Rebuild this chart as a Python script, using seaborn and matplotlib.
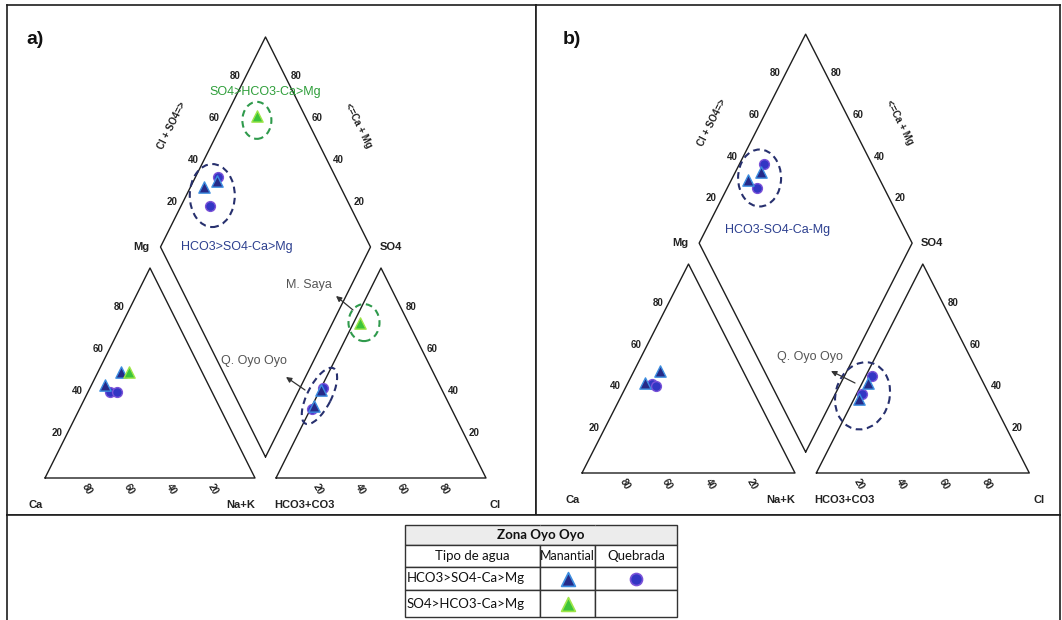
import numpy as np
import pandas as pd
import matplotlib
matplotlib.use("Agg")
import matplotlib.pyplot as plt
import seaborn as sns
from matplotlib.patches import Ellipse, Rectangle
from matplotlib import transforms

sns.set_theme(style="white")
plt.rcParams['font.family'] = ['Liberation Sans', 'DejaVu Sans']

# ---------------------------------------------------------------- data (%)
# a) Zona Oyo Oyo
a_tipo = ["Manantial", "Manantial", "Quebrada", "Quebrada", "Manantial"]
a_agua = ["HCO3>SO4-Ca>Mg", "HCO3>SO4-Ca>Mg", "HCO3>SO4-Ca>Mg",
          "HCO3>SO4-Ca>Mg", "SO4>HCO3-Ca>Mg"]
a_ca = [49.0, 38.5, 48.5, 45.0, 34.7]
a_mg = [44.5, 50.5, 41.0, 41.0, 50.5]
a_nak = [6.5, 11.0, 10.5, 14.0, 14.8]
a_hco3 = [64.8, 57.5, 56.0, 66.5, 23.0]
a_so4 = [34.5, 42.0, 43.0, 33.0, 74.0]
a_cl = [0.7, 0.5, 1.0, 0.5, 3.0]

# b) Zona Oyo Oyo
b_tipo = ["Manantial", "Manantial", "Quebrada", "Quebrada"]
b_agua = ["HCO3>SO4-Ca>Mg"] * 4
b_ca = [39.0, 49.0, 46.0, 44.5]
b_mg = [49.0, 43.0, 42.5, 41.5]
b_nak = [12.0, 8.0, 11.5, 14.0]
b_hco3 = [54.0, 62.0, 50.5, 59.5]
b_so4 = [43.0, 35.5, 46.5, 38.0]
b_cl = [3.0, 2.5, 3.0, 2.5]

tick_values = [20, 40, 60, 80]

# legend table
tabla_titulo = "Zona Oyo Oyo"
tabla_columnas = ["Tipo de agua", "Manantial", "Quebrada"]
tabla_filas = ["HCO3>SO4-Ca>Mg", "SO4>HCO3-Ca>Mg"]

# ---------------------------------------------------------------- styles
STYLE = {
    ("HCO3>SO4-Ca>Mg", "Quebrada"): dict(marker="o", color="#3336c4", edge="#7a52d8", s=50),
    ("HCO3>SO4-Ca>Mg", "Manantial"): dict(marker="^", color="#262a88", edge="#3d8ee0", s=66),
    ("SO4>HCO3-Ca>Mg", "Manantial"): dict(marker="^", color="#3cc43a", edge="#9fe64a", s=66),
}
LINE = "#1e1e1e"
BLUE_TXT = "#2c3f8f"
GREEN_TXT = "#2e9e3a"
GREY_TXT = "#555555"
TABLE_FONT = ["Lato", "DejaVu Sans"]

H = np.sqrt(3) / 2
GAP = 0.1
W_PX, H_PX = 1062, 620

fig = plt.figure(figsize=(W_PX / 100, H_PX / 100), dpi=100)
fig.patch.set_facecolor("white")


def cation_xy(ca, mg, nak):
    ca, mg, nak = map(np.asarray, (ca, mg, nak))
    tot = ca + mg + nak
    return (nak + mg / 2) / tot, mg / tot * H


def anion_xy(hco3, so4, cl):
    hco3, so4, cl = map(np.asarray, (hco3, so4, cl))
    tot = hco3 + so4 + cl
    return 1 + GAP + (cl + so4 / 2) / tot, so4 / tot * H


def diamond_xy(ca, mg, nak, hco3, so4, cl):
    ca, mg, nak, hco3, so4, cl = map(np.asarray, (ca, mg, nak, hco3, so4, cl))
    u = (ca + mg) / (ca + mg + nak)
    v = (so4 + cl) / (hco3 + so4 + cl)
    bx, by = 1 + GAP / 2, GAP * H
    return bx + 0.5 * (v - u), by + H * (u + v)


def make_panel(box, x0, sx, y0, sy):
    """Axes over a panel box given in pixels; data units: triangle side = 1."""
    l, t, r, b = box
    ax = fig.add_axes([l / W_PX, 1 - b / H_PX, (r - l) / W_PX, (b - t) / H_PX])
    ax.set_xlim((l - x0) / sx, (r - x0) / sx)
    ax.set_ylim((y0 - b) / sy, (y0 - t) / sy)
    ax.set_xticks([]); ax.set_yticks([])
    for sp in ax.spines.values():
        sp.set_color(LINE); sp.set_linewidth(1.2)
    ax.px = lambda px, py: ((px - x0) / sx, (y0 - py) / sy)
    return ax


def edge_angle(ax, p, q):
    a = ax.transData.transform(p); b = ax.transData.transform(q)
    return np.degrees(np.arctan2(b[1] - a[1], b[0] - a[0]))


def ellipse(ax, cx, cy, dx, dy, w, h, ang, color):
    tr = fig.dpi_scale_trans + transforms.ScaledTranslation(cx, cy, ax.transData)
    ax.add_patch(Ellipse((dx / 100, dy / 100), w / 100, h / 100, angle=ang,
                         transform=tr, fill=False, ec=color, lw=1.5,
                         ls=(0, (3.2, 2.2)), zorder=4))


def draw_frame(ax):
    kw = dict(color=LINE, lw=1.0, zorder=2)
    ax.plot([0, 1, 0.5, 0], [0, 0, H, 0], **kw)
    ax.plot(np.array([0, 1, 0.5, 0]) + 1 + GAP, [0, 0, H, 0], **kw)
    bx, by = 1 + GAP / 2, GAP * H
    ax.plot([bx, bx - 0.5, bx, bx + 0.5, bx], [by, by + H, by + 2 * H, by + H, by], **kw)

    tk = dict(fontsize=7, fontweight="bold", color="#222222",
              textcoords="offset pixels", va="center")
    ang_up = edge_angle(ax, (0, 0), (0.5, H))
    for t in tick_values:
        f = t / 100
        # Mg along the left edge of the cation triangle
        ax.annotate(str(t), (0.5 * f, H * f), xytext=(-4, 3), ha="right", **tk)
        # Ca along the cation base
        ax.annotate(str(t), (1 - f, 0), xytext=(0, -11), ha="center", rotation=-60, **tk)
        # Cl along the anion base
        ax.annotate(str(t), (1 + GAP + f, 0), xytext=(0, -11), ha="center", rotation=-60, **tk)
        # SO4 along the right edge of the anion triangle
        ax.annotate(str(t), (2 + GAP - 0.5 * f, H * f), xytext=(4, 3), ha="left", **tk)
        # diamond: Cl+SO4 (upper left) and Ca+Mg (upper right)
        ax.annotate(str(t), (bx - 0.5 + 0.5 * f, by + H + H * f), xytext=(-4, 3), ha="right", **tk)
        ax.annotate(str(t), (bx + 0.5 - 0.5 * f, by + H + H * f), xytext=(4, 3), ha="left", **tk)

    ax_kw = dict(fontsize=7, fontweight="bold", color="#222222",
                 textcoords="offset pixels", ha="center", va="center")
    ax.annotate("Cl + SO4=>", (bx - 0.5 + 0.5 * 0.55, by + H + H * 0.55),
                xytext=(-46, 6), rotation=ang_up, **ax_kw)
    ax.annotate("<=Ca + Mg", (bx + 0.5 - 0.5 * 0.55, by + H + H * 0.55),
                xytext=(46, 6), rotation=-ang_up, **ax_kw)

    vk = dict(fontsize=8, fontweight="bold", color="#222222",
              textcoords="offset pixels", va="center")
    ax.annotate("Mg", (bx - 0.5, by + H), xytext=(-11, 0), ha="right", **vk)
    ax.annotate("SO4", (bx + 0.5, by + H), xytext=(9, 0), ha="left", **vk)
    ax.annotate("Ca", (0, 0), xytext=(-2, -27), ha="right", **vk)
    ax.annotate("Na+K", (1, 0), xytext=(0, -27), ha="right", **vk)
    ax.annotate("HCO3+CO3", (1 + GAP, 0), xytext=(-2, -27), ha="left", **vk)
    ax.annotate("Cl", (2 + GAP, 0), xytext=(4, -27), ha="left", **vk)


def draw_points(ax, tipo, agua, ca, mg, nak, hco3, so4, cl, order):
    cx, cy = cation_xy(ca, mg, nak)
    axx, ayy = anion_xy(hco3, so4, cl)
    dx, dy = diamond_xy(ca, mg, nak, hco3, so4, cl)
    df = pd.DataFrame({
        "x": np.concatenate([cx, axx, dx]),
        "y": np.concatenate([cy, ayy, dy]),
        "tipo": list(tipo) * 3,
        "agua": list(agua) * 3,
    })
    for key in order:
        st = STYLE[key]
        sub = df[(df["agua"] == key[0]) & (df["tipo"] == key[1])]
        if sub.empty:
            continue
        sns.scatterplot(data=sub, x="x", y="y", ax=ax, marker=st["marker"],
                        color=st["color"], edgecolor=st["edge"], linewidth=1.0,
                        s=st["s"], legend=False, zorder=5)
    ax.set_xlabel(""); ax.set_ylabel("")
    return df


def arrow(ax, tail, head):
    ax.annotate("", xy=ax.px(*head), xytext=ax.px(*tail),
                arrowprops=dict(arrowstyle="-|>", color="#333333", lw=0.9,
                                mutation_scale=8, shrinkA=0, shrinkB=0), zorder=6)


# ---------------------------------------------------------------- panel a
axa = make_panel((7, 5, 536, 515), 45, 210, 478, 242.5)
draw_frame(axa)
dfa = draw_points(axa, a_tipo, a_agua, a_ca, a_mg, a_nak, a_hco3, a_so4, a_cl,
                  order=[("HCO3>SO4-Ca>Mg", "Quebrada"), ("HCO3>SO4-Ca>Mg", "Manantial"),
                         ("SO4>HCO3-Ca>Mg", "Manantial")])
n = len(a_ca)
dia_a = dfa.iloc[2 * n:]
ani_a = dfa.iloc[n:2 * n]
blue_a = dia_a[dia_a["agua"] == "HCO3>SO4-Ca>Mg"]
green_a = dia_a[dia_a["agua"] == "SO4>HCO3-Ca>Mg"]
ellipse(axa, blue_a.x.mean(), blue_a.y.mean(), 0, -8, 45, 63, 0, "#27306e")
ellipse(axa, green_a.x.mean(), green_a.y.mean(), 0, -4, 29, 37, 0, "#2f9a4c")
blue_an = ani_a[ani_a["agua"] == "HCO3>SO4-Ca>Mg"]
green_an = ani_a[ani_a["agua"] == "SO4>HCO3-Ca>Mg"]
ellipse(axa, blue_an.x.mean(), blue_an.y.mean(), 2, 2, 62, 24, 63, "#27306e")
ellipse(axa, green_an.x.mean(), green_an.y.mean(), 4, 0, 31, 37, 0, "#2f9a4c")

axa.text(*axa.px(265, 92), "SO4>HCO3-Ca>Mg", color=GREEN_TXT, fontsize=9,
         ha="center", va="center")
axa.text(*axa.px(237, 247), "HCO3>SO4-Ca>Mg", color=BLUE_TXT, fontsize=9,
         ha="center", va="center")
axa.text(*axa.px(309, 285), "M. Saya", color=GREY_TXT, fontsize=9,
         ha="center", va="center")
axa.text(*axa.px(254, 361), "Q. Oyo Oyo", color=GREY_TXT, fontsize=9,
         ha="center", va="center")
arrow(axa, (353, 310), (336, 296))
arrow(axa, (305, 390), (286, 377))
axa.text(*axa.px(35, 39), "a)", fontsize=14, fontweight="bold", ha="center",
         va="center", color="#111111")

# ---------------------------------------------------------------- panel b
axb = make_panel((536, 5, 1060, 515), 582, 213, 473, 241.3)
draw_frame(axb)
dfb = draw_points(axb, b_tipo, b_agua, b_ca, b_mg, b_nak, b_hco3, b_so4, b_cl,
                  order=[("HCO3>SO4-Ca>Mg", "Quebrada"), ("HCO3>SO4-Ca>Mg", "Manantial")])
n = len(b_ca)
dia_b = dfb.iloc[2 * n:]
ani_b = dfb.iloc[n:2 * n]
ellipse(axb, dia_b.x.mean(), dia_b.y.mean(), 2, -2, 43, 57, 0, "#27306e")
ellipse(axb, ani_b.x.mean(), ani_b.y.mean(), -3, -8, 68, 54, 75, "#27306e")
axb.text(*axb.px(778, 230), "HCO3-SO4-Ca-Mg", color=BLUE_TXT, fontsize=9,
         ha="center", va="center")
axb.text(*axb.px(810, 357), "Q. Oyo Oyo", color=GREY_TXT, fontsize=9,
         ha="center", va="center")
arrow(axb, (855, 383), (831, 371))
axb.text(*axb.px(572, 39), "b)", fontsize=14, fontweight="bold", ha="center",
         va="center", color="#111111")

# ---------------------------------------------------------------- legend area
axl = fig.add_axes([7 / W_PX, 0, (1060 - 7) / W_PX, (620 - 515) / H_PX])
axl.set_xticks([]); axl.set_yticks([])
for k, sp in axl.spines.items():
    sp.set_color(LINE); sp.set_linewidth(1.2)
axl.spines["bottom"].set_visible(False)

l, t, r, b = 405, 525, 677, 617
axt = fig.add_axes([l / W_PX, 1 - b / H_PX, (r - l) / W_PX, (b - t) / H_PX])
axt.set_xlim(0, 1); axt.set_ylim(0, 1); axt.axis("off")
col_w = np.array([135, 55, 82], float)
row_h = np.array([20, 22, 23, 27], float)
col_w /= col_w.sum(); row_h /= row_h.sum()
# shaded title row behind the table grid
axt.add_patch(Rectangle((0, 1 - row_h[0]), 1, row_h[0], facecolor="#ececec",
                        edgecolor="none", zorder=0))
cells = [["", "", ""], tabla_columnas, [tabla_filas[0], "", ""], [tabla_filas[1], "", ""]]
tbl = axt.table(cellText=cells, colWidths=list(col_w), bbox=[0, 0, 1, 1], cellLoc="center")
tbl.auto_set_font_size(False)
tbl.set_zorder(2)
for (i, j), cell in tbl.get_celld().items():
    cell.set_height(row_h[i])
    cell.set_edgecolor("#333333")
    cell.set_linewidth(1.0)
    txt = cell.get_text()
    txt.set_fontsize(9.5)
    txt.set_fontfamily(TABLE_FONT)
    txt.set_color("#111111")
    if i == 0:
        cell.set_facecolor("none")
        cell.visible_edges = {0: "BTL", 1: "BT", 2: "BTR"}[j]
    if i >= 2 and j == 0:
        txt.set_horizontalalignment("left")
        cell.PAD = 0.012
    if i == 1 and j == 1:
        txt.set_fontsize(9)
        cell.PAD = 0.0
axt.text(0.5, 1 - row_h[0] / 2, tabla_titulo, ha="center", va="center",
         fontsize=9.5, fontweight="bold", family=TABLE_FONT, color="#111111", zorder=5)
col_c = np.cumsum(col_w) - col_w / 2
row_c = 1 - (np.cumsum(row_h) - row_h / 2)
for key, (ri, ci) in {("HCO3>SO4-Ca>Mg", "Manantial"): (2, 1),
                      ("HCO3>SO4-Ca>Mg", "Quebrada"): (2, 2),
                      ("SO4>HCO3-Ca>Mg", "Manantial"): (3, 1)}.items():
    st = STYLE[key]
    axt.scatter([col_c[ci]], [row_c[ri]], marker=st["marker"], s=st["s"] * 1.5,
                c=st["color"], edgecolors=st["edge"], linewidths=1.2, zorder=6,
                clip_on=False)

fig.savefig("out.png", dpi=100, facecolor="white")
